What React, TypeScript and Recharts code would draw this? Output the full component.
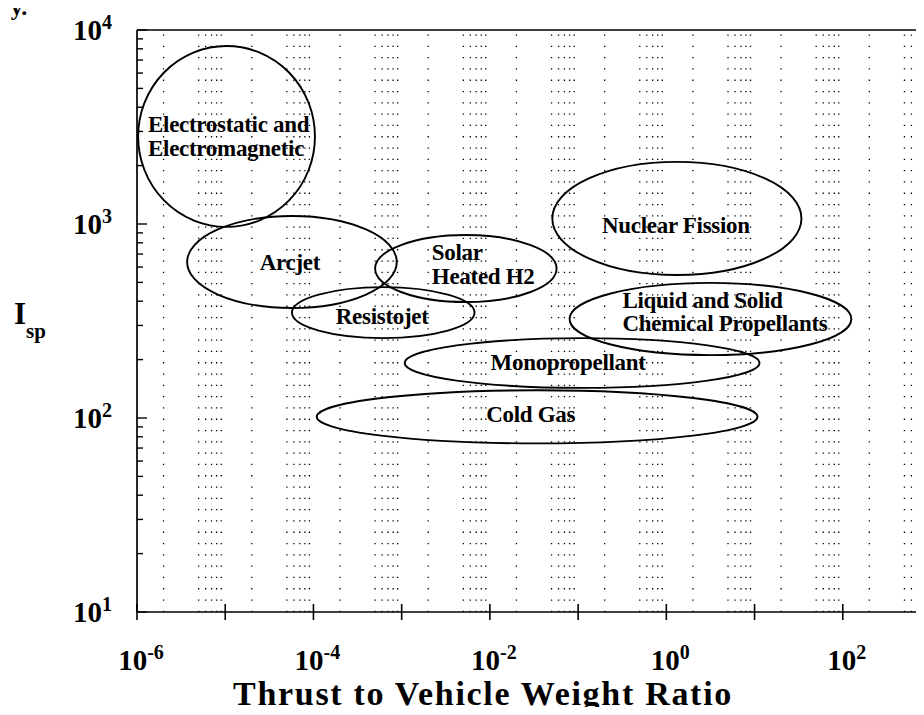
import React from 'react';
import {
  ComposedChart,
  XAxis,
  YAxis,
  Scatter,
  ReferenceArea,
  ReferenceLine,
} from 'recharts';

// Propulsion regions: thrust-to-weight range and specific impulse range (seconds)
const regionLines: string[][] = [
  ['Electrostatic and', 'Electromagnetic'],
  ['Arcjet'],
  ['Solar', 'Heated H2'],
  ['Resistojet'],
  ['Monopropellant'],
  ['Cold Gas'],
  ['Nuclear Fission'],
  ['Liquid and Solid', 'Chemical Propellants'],
];
const thrustMin = [1.03e-6, 3.7e-6, 5.0e-4, 5.7e-5, 1.08e-3, 1.09e-4, 0.051, 0.08];
const thrustMax = [1.04e-4, 8.8e-4, 0.057, 6.7e-3, 11.4, 10.8, 34, 125];
const ispMin = [966, 369, 396, 258, 143, 74, 546, 211];
const ispMax = [8270, 1100, 877, 473, 258, 139, 2090, 497];

// Axis ticks
const xDecades = [1e-6, 1e-5, 1e-4, 1e-3, 1e-2, 1e-1, 1, 10, 100, 1000];
const yDecades = [10, 100, 1000, 10000];
const minorSteps = [2, 3, 4, 5, 6, 7, 8, 9];
const gridSteps = [2, 5, 6, 7, 8, 9];

const yTicks: number[] = [];
yDecades.forEach((d, i) => {
  yTicks.push(d);
  if (i < yDecades.length - 1) minorSteps.forEach((k) => yTicks.push(k * d));
});
const xGrid: number[] = [];
xDecades.slice(0, -1).forEach((d) => gridSteps.forEach((k) => xGrid.push(k * d)));

// Label placement relative to each region's centre (px)
const labelLayout = [
  { anchor: 'start', dx: -78.5, dy: -4 },
  { anchor: 'middle', dx: -2, dy: 8 },
  { anchor: 'start', dx: -34, dy: -8.5 },
  { anchor: 'middle', dx: -1, dy: 11.5 },
  { anchor: 'middle', dx: -14, dy: 7 },
  { anchor: 'middle', dx: -6.5, dy: 5.5 },
  { anchor: 'middle', dx: -1, dy: 14.5 },
  { anchor: 'start', dx: -88, dy: -11 },
];

const centers = regionLines.map((lines, i) => ({
  idx: i,
  x: Math.sqrt(thrustMin[i] * thrustMax[i]),
  y: Math.sqrt(ispMin[i] * ispMax[i]),
}));

const SERIF = "'Liberation Serif', 'Times New Roman', serif";

const exponentOf = (v: number) => Math.round(Math.log10(v));

const XTick = (props: any) => {
  const { x, y, payload } = props;
  const e = exponentOf(payload.value);
  return (
    <g>
      <line x1={x} x2={x} y1={y - 8} y2={y + 8} stroke="#000" strokeWidth={1.6} />
      {e % 2 === 0 && (
        <text x={x + 4} y={y + 58} textAnchor="middle" fontFamily={SERIF} fontWeight="bold" fill="#000">
          <tspan fontSize={29}>10</tspan>
          <tspan fontSize={20} dy={-11}>{String(e)}</tspan>
        </text>
      )}
    </g>
  );
};

const YTick = (props: any) => {
  const { x, y, payload } = props;
  const v = payload.value;
  const e = exponentOf(v);
  const isDecade = Math.abs(v - Math.pow(10, e)) < 1e-6 * v;
  return (
    <g>
      <line x1={x} x2={x + (isDecade ? 10 : 6)} y1={y} y2={y} stroke="#000" strokeWidth={1.4} />
      {isDecade && (
        <text x={x - 25} y={y + 10} textAnchor="end" fontFamily={SERIF} fontWeight="bold" fill="#000">
          <tspan fontSize={29}>10</tspan>
          <tspan fontSize={20} dy={-11}>{String(e)}</tspan>
        </text>
      )}
    </g>
  );
};

const EllipseShape = (props: any) => {
  const { x, y, width, height } = props;
  return (
    <ellipse
      cx={x + width / 2}
      cy={y + height / 2}
      rx={Math.abs(width) / 2}
      ry={Math.abs(height) / 2}
      fill="none"
      stroke="#000"
      strokeWidth={1.9}
    />
  );
};

const RegionLabel = (props: any) => {
  const { cx, cy, payload } = props;
  const i = payload.idx;
  const lay = labelLayout[i];
  return (
    <text
      textAnchor={lay.anchor}
      fontFamily={SERIF}
      fontWeight="bold"
      fontSize={23}
      fill="#000"
      letterSpacing={-0.3}
    >
      {regionLines[i].map((line, j) => (
        <tspan key={j} x={cx + lay.dx} y={cy + lay.dy + j * 23.5}>
          {line}
        </tspan>
      ))}
    </text>
  );
};

const XTitle = (props: any) => {
  const { viewBox } = props;
  return (
    <text
      x={viewBox.x + 346}
      y={viewBox.y + 93}
      textAnchor="middle"
      fontFamily={SERIF}
      fontWeight="bold"
      fontSize={34}
      letterSpacing={1.7}
      fill="#000"
    >
      Thrust to Vehicle Weight Ratio
    </text>
  );
};

const YTitle = () => (
  <text x={6} y={316} fontFamily={SERIF} fontWeight="bold" fill="#000">
    <tspan fontSize={31}>I</tspan>
    <tspan fontSize={21} dy={14}>sp</tspan>
  </text>
);

export default function App() {
  return (
    <div style={{ position: 'relative', margin: -8, width: 924, height: 715, overflow: 'hidden' }}>
      <svg
        width={60}
        height={30}
        style={{ position: 'absolute', left: 0, top: 0, overflow: 'visible' }}
      >
        <text x={0} y={15} fontFamily={SERIF} fontWeight="bold" fontSize={24} fill="#000">
          ry.
        </text>
      </svg>
      <div style={{ position: 'absolute', left: 8, top: 8 }}>
        <ComposedChart
          width={935}
          height={707}
          margin={{ top: 22, right: 12, bottom: 0, left: 0 }}
        >
          <XAxis
            dataKey="x"
            type="number"
            scale="log"
            domain={[1e-6, 1e3]}
            ticks={xDecades}
            interval={0}
            allowDataOverflow
            tickSize={0}
            tickMargin={0}
            tickLine={false}
            axisLine={{ stroke: '#000', strokeWidth: 1.7 }}
            tick={<XTick />}
            height={103}
            label={{ content: <XTitle /> }}
          />
          <YAxis
            dataKey="y"
            type="number"
            scale="log"
            domain={[10, 1e4]}
            ticks={yTicks}
            interval={0}
            allowDataOverflow
            tickSize={0}
            tickMargin={0}
            tickLine={false}
            axisLine={{ stroke: '#000', strokeWidth: 1.7 }}
            tick={<YTick />}
            width={129}
            label={{ content: <YTitle /> }}
          />
          {xGrid.map((v) => (
            <ReferenceLine
              key={`g${v}`}
              x={v}
              stroke="#000"
              strokeWidth={1.3}
              strokeDasharray="1.3 10"
            />
          ))}
          <ReferenceLine y={1e4} stroke="#000" strokeWidth={1.7} />
          {regionLines.map((_, i) => (
            <ReferenceArea
              key={`r${i}`}
              x1={thrustMin[i]}
              x2={thrustMax[i]}
              y1={ispMin[i]}
              y2={ispMax[i]}
              shape={<EllipseShape />}
            />
          ))}
          <Scatter data={centers} isAnimationActive={false} shape={<RegionLabel />} />
        </ComposedChart>
      </div>
    </div>
  );
}
